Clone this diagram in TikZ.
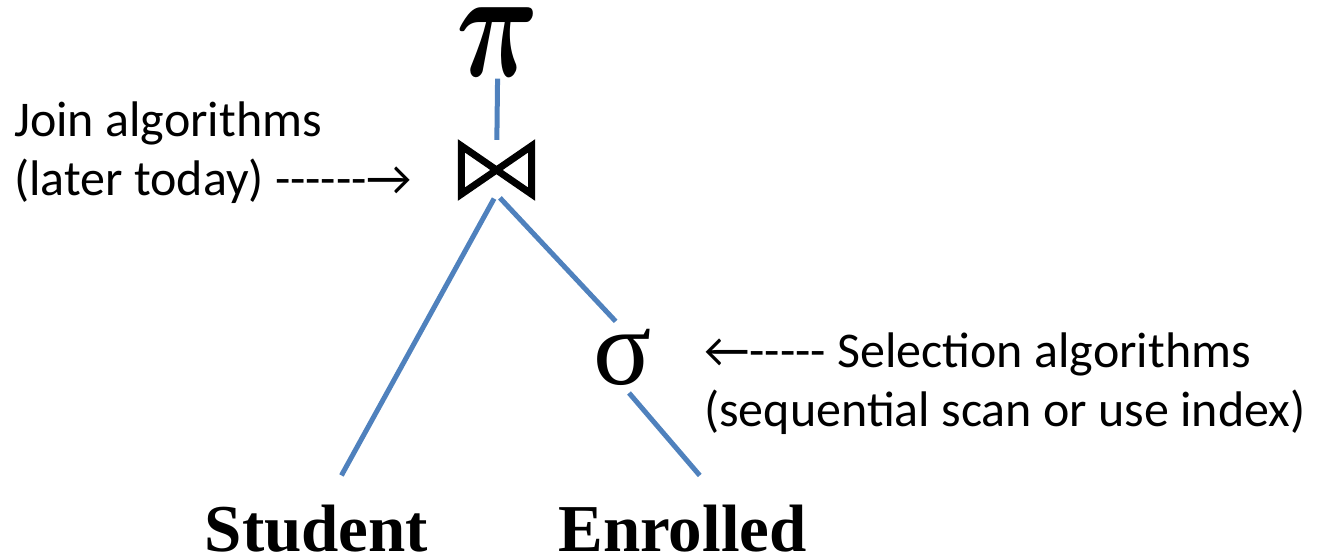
\documentclass[tikz,border=0pt]{standalone}
\usepackage{amsmath,amssymb}
\usepackage{graphicx}
\usepackage{fontspec}
\setmainfont{Carlito}
\newfontfamily\timesfont{Liberation Serif}
\usepackage{tikz}
\usetikzlibrary{positioning}
\definecolor{edgeblue}{HTML}{4F81BD}
\definecolor{inkblack}{HTML}{000000}
\newcommand{\dashrun}[1]{\foreach \i in {1,...,#1}{-{}}}
\tikzset{
  treeedge/.style={edgeblue,line width=5pt},
  note/.style={font=\fontsize{50}{59}\selectfont,inner sep=0pt,align=left,anchor=base west},
  relname/.style={font=\timesfont\bfseries\fontsize{67}{70}\selectfont,inner sep=0pt,anchor=base},
  opnode/.style={inner sep=0pt,inkblack}
}

\begin{document}
\begin{tikzpicture}[x=1pt,y=-1pt]
  \useasboundingbox (0,0) rectangle (1318,558);
  % operators
  \node[opnode] (pi) at (498,42) {\scalebox{11.5}[15.5]{$\boldsymbol{\pi}$}};
  \node[opnode,minimum width=70pt,minimum height=48pt] (join) at (496.5,170) {};
  \draw[inkblack,line width=7pt,line join=miter]
    (join.north west)--(join.south east)--(join.north east)--(join.south west)--cycle;
  \node[opnode,font=\timesfont\fontsize{108}{110}\selectfont] (sigma) at (622.5,357) {σ};
  % relations
  \node[relname] (student) at (316.5,551) {Student};
  \node[relname] (enrolled) at (682.5,551) {Enrolled};
  % tree edges
  \draw[treeedge,shorten <=2pt,shorten >=6pt] (pi) -- (join);
  \draw[treeedge,shorten <=5pt,shorten >=33pt] (join.south) -- ([xshift=9pt]student.north);
  \draw[treeedge,shorten <=5pt,shorten >=10pt] (join.south) -- (sigma.north);
  \draw[treeedge,shorten <=10pt,shorten >=38pt] (sigma.south) -- ([xshift=42pt]enrolled.north);
  % notes
  \node[note] (joinnote) at (14,195) {Join algorithms\\(later today) -{}-{}-{}-{}-{}-→};
  \node[note] (selnote) at (704,426) {←-{}-{}-{}-{}- Selection algorithms\\(sequential scan or use index)};
\end{tikzpicture}
\end{document}
